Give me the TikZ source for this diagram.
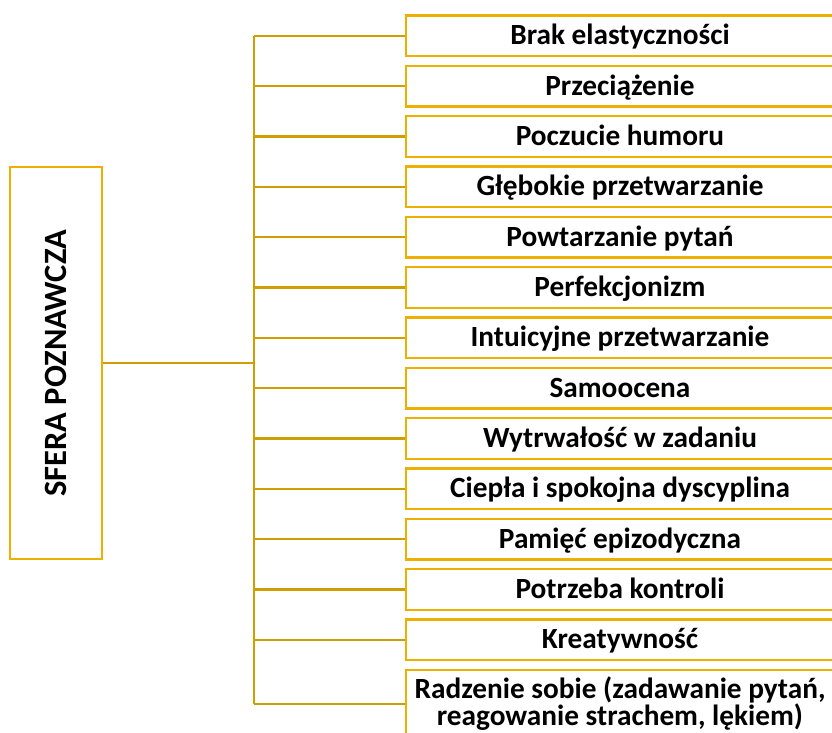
\documentclass[tikz,border=0pt]{standalone}
\usepackage{fontspec}
\setmainfont{Carlito}
\definecolor{boxgold}{HTML}{EDB000}
\definecolor{linegold}{HTML}{D09E00}
\begin{document}
\begin{tikzpicture}[x=1pt,y=-1pt,
  itembox/.style={draw=boxgold,line width=2.3pt,fill=white,minimum width=428pt,minimum height=40.5pt,
    inner sep=0pt,font=\fontsize{29.3}{27}\selectfont\bfseries,align=center},
  onel/.style={text height=23pt,text depth=5pt},
  mainbox/.style={draw=boxgold,line width=2.3pt,fill=white,minimum width=392pt,minimum height=92pt,
    inner sep=0pt,rotate=90,font=\fontsize{32.5}{34}\selectfont\bfseries},
  conn/.style={draw=linegold,line width=2.3pt}]
\useasboundingbox (0,0) rectangle (832,733);
\clip (0,0) rectangle (832,733);
\node[mainbox] (main) at (56,363.3) {SFERA POZNAWCZA};
\coordinate (ttop) at (254,35.9);
\coordinate (tbot) at (254,704);
\foreach \t [count=\i from 0] in {Brak elastyczności,Przeciążenie,Poczucie humoru,Głębokie przetwarzanie,Powtarzanie pytań,Perfekcjonizm,Intuicyjne przetwarzanie,Samoocena,Wytrwałość w zadaniu,Ciepła i spokojna dyscyplina,Pamięć epizodyczna,Potrzeba kontroli,Kreatywność}{
  \node[itembox,onel] (b\i) at (620,35.9+\i*50.33) {\t};
}
\node[itembox,minimum height=68pt] (b13) at (620,704) {Radzenie sobie (zadawanie pytań,\\reagowanie strachem, lękiem)};
\draw[conn] (ttop) -- (tbot);
\draw[conn] (main.south) -- (main.south -| ttop);
\foreach \i in {0,...,13}{
  \draw[conn] (b\i.west) -- (b\i.west -| ttop);
}
\end{tikzpicture}
\end{document}
